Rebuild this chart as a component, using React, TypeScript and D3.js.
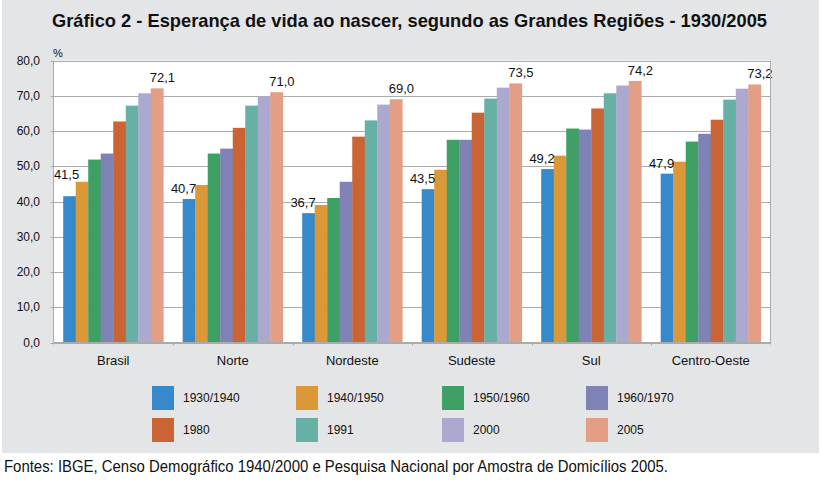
import React from "react";
import * as d3 from "d3";

const regions = ["Brasil", "Norte", "Nordeste", "Sudeste", "Sul", "Centro-Oeste"];
const periods = ["1930/1940", "1940/1950", "1950/1960", "1960/1970", "1980", "1991", "2000", "2005"];
const colors = ["#3689CB", "#DA9838", "#3FA066", "#7F82B5", "#CB6434", "#66B0A6", "#ACA9D0", "#E39E85"];

const brasil = [41.5, 45.6, 51.9, 53.6, 62.7, 67.2, 70.7, 72.1];
const norte = [40.7, 44.7, 53.6, 55.0, 60.9, 67.2, 69.8, 71.0];
const nordeste = [36.7, 39.0, 41.0, 45.6, 58.4, 63.0, 67.5, 69.0];
const sudeste = [43.5, 49.0, 57.5, 57.5, 65.2, 69.2, 72.3, 73.5];
const sul = [49.2, 53.0, 60.7, 60.4, 66.4, 70.7, 72.9, 74.2];
const centroOeste = [47.9, 51.3, 57.0, 59.2, 63.2, 68.9, 72.0, 73.2];
const yTicks = [0, 10, 20, 30, 40, 50, 60, 70, 80];

const values = [brasil, norte, nordeste, sudeste, sul, centroOeste];

const fmt = (v: number) => v.toFixed(1).replace(".", ",");

export default function App() {
  const W = 821, H = 482;
  const left = 53.5, right = 770.5, top = 60.5, bottom = 342.5;
  const x0 = d3.scaleBand<string>().domain(regions).range([left, right]).paddingInner(0).paddingOuter(0);
  const bw = x0.bandwidth();
  const innerPad = 9.7;
  const x1 = d3.scaleBand<string>().domain(periods).range([innerPad, bw - innerPad]).padding(0);
  const y = d3.scaleLinear().domain([0, 80]).range([bottom, top]);
  const sans = "'Liberation Sans', Arial, sans-serif";
  const grid = "#ABABAB";

  return (
    <svg width={W} height={H} style={{ position: "absolute", left: 0, top: 0, display: "block" }}>
      <rect x={0} y={0} width={W} height={H} fill="#ffffff" />
      <rect x={2} y={0} width={817} height={453} fill="#E4E5E7" />
      <text x={52} y={27} textLength={715} lengthAdjust="spacingAndGlyphs" fontFamily={sans} fontWeight="bold" fontSize={19} fill="#111">
        Gráfico 2 - Esperança de vida ao nascer, segundo as Grandes Regiões - 1930/2005
      </text>
      <rect x={left} y={top} width={right - left} height={bottom - top} fill="#ffffff" />
      {yTicks.map((t) => (
        <g key={t}>
          <line x1={left - 3} x2={right} y1={Math.round(y(t)) + 0.5} y2={Math.round(y(t)) + 0.5} stroke={grid} strokeWidth={1} />
          <text x={40} y={y(t)} dy="0.35em" textAnchor="end" fontFamily={sans} fontSize={12} fill="#111">
            {fmt(t)}
          </text>
        </g>
      ))}
      <text x={53} y={57} fontFamily={sans} fontSize={11} fill="#111">%</text>
      {values.map((vals, ri) => {
        const gx = x0(regions[ri])!;
        const firstRight = gx + x1(periods[0])! + x1.bandwidth();
        const raise = ri === 0;
        return (
          <g key={regions[ri]}>
            {vals.map((v, pi) => (
              <rect key={pi} x={gx + x1(periods[pi])!} y={y(v)} width={x1.bandwidth() + 0.3} height={bottom - y(v)} fill={colors[pi]} />
            ))}
            <text
              x={raise ? firstRight + 3.5 : firstRight + 1}
              y={raise ? y(vals[1]) - 3 : y(vals[0]) - 6}
              textAnchor="end" fontFamily={sans} fontSize={13} fill="#111">
              {fmt(vals[0])}
            </text>
            <text x={gx + x1(periods[7])! - 1} y={y(vals[7]) - 6} textAnchor="start" fontFamily={sans} fontSize={13} fill="#111">
              {fmt(vals[7])}
            </text>
            <text x={gx + bw / 2} y={365} textAnchor="middle" fontFamily={sans} fontSize={13} fill="#111">
              {regions[ri]}
            </text>
          </g>
        );
      })}
      <line x1={left} x2={left} y1={top} y2={bottom + 2} stroke={grid} />
      <line x1={right} x2={right} y1={top} y2={bottom + 2} stroke={grid} />
      <line x1={left} x2={right} y1={bottom} y2={bottom} stroke={grid} />
      {regions.slice(1).map((r) => (
        <line key={r} x1={Math.round(x0(r)!) + 0.5} x2={Math.round(x0(r)!) + 0.5} y1={bottom} y2={bottom + 3} stroke={grid} />
      ))}
      {periods.map((p, i) => {
        const col = i % 4;
        const row = Math.floor(i / 4);
        const lx = [152, 296, 442, 586][col];
        const ly = 386 + row * 32;
        return (
          <g key={p}>
            <rect x={lx} y={ly} width={22} height={24} fill={colors[i]} />
            <text x={lx + 31} y={ly + 12} dy="0.35em" fontFamily={sans} fontSize={12} fill="#111">
              {p}
            </text>
          </g>
        );
      })}
      <text x={4} y={472} textLength={664} lengthAdjust="spacingAndGlyphs" fontFamily={sans} fontSize={16} fill="#111">
        Fontes: IBGE, Censo Demográfico 1940/2000 e Pesquisa Nacional por Amostra de Domicílios 2005.
      </text>
    </svg>
  );
}
